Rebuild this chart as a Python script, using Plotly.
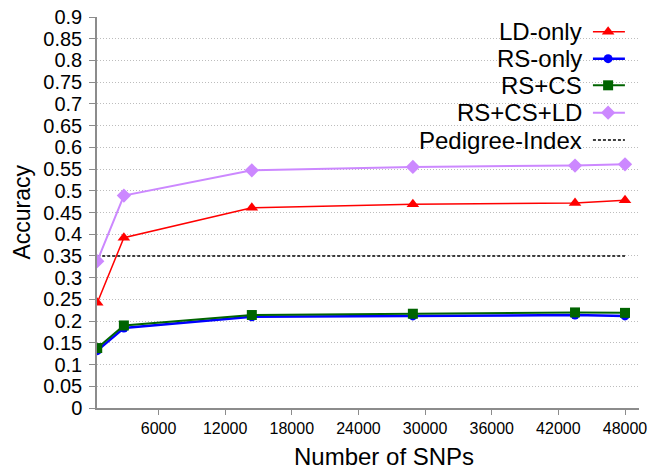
import plotly.graph_objects as go

# ---- data ----
snps = [480, 2880, 14400, 28900, 43500, 48000]
ld_only = [0.242, 0.392, 0.461, 0.469, 0.472, 0.478]
rs_only = [0.132, 0.184, 0.210, 0.212, 0.214, 0.212]
rs_cs = [0.138, 0.190, 0.214, 0.217, 0.220, 0.219]
rs_cs_ld = [0.338, 0.489, 0.547, 0.555, 0.558, 0.561]
pedigree_index = 0.35

x_ticks = [6000, 12000, 18000, 24000, 30000, 36000, 42000, 48000]
y_ticks = [round(0.05 * i, 2) for i in range(19)]

series_names = ["LD-only", "RS-only", "RS+CS", "RS+CS+LD", "Pedigree-Index"]

FONT = "Liberation Sans, Arial, sans-serif"

styles = {
    "LD-only": dict(color="#ff0000", width=1.5, symbol="triangle-up", size=11),
    "RS-only": dict(color="#0000ff", width=2.5, symbol="circle", size=9),
    "RS+CS": dict(color="#006400", width=2, symbol="square", size=10),
    "RS+CS+LD": dict(color="#cc88ff", width=2, symbol="diamond", size=11),
}

fig = go.Figure()

# Pedigree reference line
fig.add_trace(go.Scatter(
    x=[snps[0], snps[-1]], y=[pedigree_index, pedigree_index], mode="lines",
    line=dict(color="black", width=1.5, dash="3px,2px"), showlegend=False,
    hoverinfo="skip"))

data = {"LD-only": ld_only, "RS-only": rs_only, "RS+CS": rs_cs, "RS+CS+LD": rs_cs_ld}
for name in ["RS+CS+LD", "LD-only", "RS-only", "RS+CS"]:
    s = styles[name]
    fig.add_trace(go.Scatter(
        x=snps, y=data[name], mode="lines+markers", name=name,
        line=dict(color=s["color"], width=s["width"]),
        marker=dict(symbol=s["symbol"], size=s["size"], color=s["color"]),
        showlegend=False))

# ---- custom legend (text on left, symbol on right) ----
leg_rows = [0.9624, 0.8934, 0.8253, 0.7553, 0.6854]
text_right = 0.8985
sym_x0, sym_x1, sym_xm = 0.915, 0.974, 0.943

fig.add_shape(type="rect", xref="paper", yref="paper", x0=0.70, x1=0.985,
              y0=0.645, y1=0.99, fillcolor="white", line=dict(width=0),
              layer="between")

for name, yy in zip(series_names, leg_rows):
    fig.add_annotation(xref="paper", yref="paper", x=text_right, y=yy,
                       text=name, showarrow=False, xanchor="right",
                       yanchor="middle", font=dict(family=FONT, size=24, color="black"))
    if name == "Pedigree-Index":
        fig.add_trace(go.Scatter(
            x=[sym_x0, sym_x1], y=[yy, yy], xaxis="x2", yaxis="y2", mode="lines",
            line=dict(color="black", width=1.5, dash="3px,2px"),
            showlegend=False, hoverinfo="skip"))
    else:
        s = styles[name]
        fig.add_trace(go.Scatter(
            x=[sym_x0, sym_x1], y=[yy, yy], xaxis="x2", yaxis="y2", mode="lines",
            line=dict(color=s["color"], width=s["width"]),
            showlegend=False, hoverinfo="skip"))
        fig.add_trace(go.Scatter(
            x=[sym_xm], y=[yy], xaxis="x2", yaxis="y2", mode="markers",
            marker=dict(symbol=s["symbol"], size=s["size"], color=s["color"]),
            showlegend=False, hoverinfo="skip"))

# axis titles as annotations for exact placement
fig.add_annotation(xref="paper", yref="paper", x=0.53, y=-0.125,
                   text="Number of SNPs", showarrow=False,
                   xanchor="center", yanchor="middle",
                   font=dict(family=FONT, size=24, color="black"))
fig.add_annotation(xref="paper", yref="paper", x=-0.14, y=0.5,
                   text="Accuracy", showarrow=False, textangle=-90,
                   xanchor="center", yanchor="middle",
                   font=dict(family=FONT, size=23, color="black"))

fig.update_layout(
    width=649, height=471,
    margin=dict(l=97, r=10, t=17, b=63),
    paper_bgcolor="white", plot_bgcolor="white",
    font=dict(family=FONT, color="black"),
    showlegend=False,
    xaxis=dict(
        range=[460, 49260], tickvals=x_ticks, tickformat="d",
        showgrid=False, zeroline=False, automargin=False,
        showline=True, linecolor="#8c8c8c", linewidth=1.5,
        ticks="outside", ticklen=5, tickcolor="#8c8c8c", tickwidth=1,
        tickfont=dict(size=16, family=FONT, color="black"),
    ),
    yaxis=dict(
        range=[0, 0.9], tickvals=y_ticks, automargin=False,
        showgrid=True, gridcolor="#bdbdbd", griddash="1px,2px", gridwidth=1,
        zeroline=False,
        showline=True, linecolor="#8c8c8c", linewidth=1.5,
        ticks="outside", ticklen=6, tickcolor="#8c8c8c", tickwidth=1,
        ticklabelstandoff=3,
        tickfont=dict(size=20, family=FONT, color="black"),
    ),
    xaxis2=dict(overlaying="x", range=[0, 1], visible=False, fixedrange=True),
    yaxis2=dict(overlaying="y", range=[0, 1], visible=False, fixedrange=True),
)

# remove the default 8px page margin so the figure sits at the window origin
fig.write_html("out.html", config={"displayModeBar": False},
               post_script="document.body.style.margin='0';document.body.style.overflow='hidden';")
